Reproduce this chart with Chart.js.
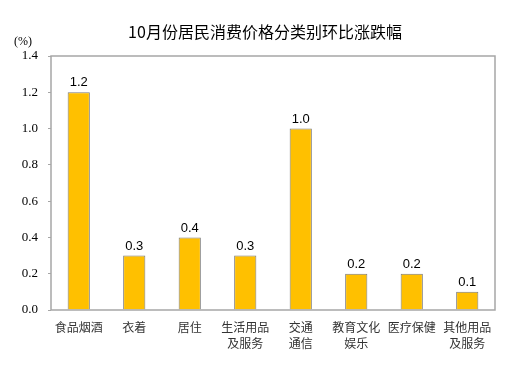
<!DOCTYPE html>
<html>
<head>
<meta charset="utf-8">
<script src="https://cdn.jsdelivr.net/npm/chart.js@4"></script>
<style>
  html, body { margin: 0; padding: 0; background: #fff; }
  #wrap { width: 529px; height: 378px; position: relative; }
</style>
</head>
<body>
<div id="wrap"><canvas id="cpiChart"></canvas></div>
<script>
// 10月份居民消费价格分类别环比涨跌幅
const categories = [
  '食品烟酒', '衣着', '居住', ['生活用品', '及服务'],
  ['交通', '通信'], ['教育文化', '娱乐'], '医疗保健', ['其他用品', '及服务'],
];
const momChange = [1.2, 0.3, 0.4, 0.3, 1.0, 0.2, 0.2, 0.1];
const chartTitle = '10月份居民消费价格分类别环比涨跌幅';
const unitLabel = '(%)';

const CJK = "'Noto Sans CJK SC', 'Liberation Sans', sans-serif";
const SERIF = "'Liberation Serif', 'Times New Roman', serif";

// draws title, unit, frame and value labels
const decor = {
  id: 'decor',
  afterDatasetsDraw(chart) {
    const { ctx, chartArea: a } = chart;
    ctx.save();
    ctx.strokeStyle = '#a6a6a6';
    ctx.lineWidth = 1.5;
    ctx.strokeRect(a.left, a.top, a.right - a.left, a.bottom - a.top);

    ctx.fillStyle = '#000';
    ctx.font = `16px ${CJK}`;
    ctx.textAlign = 'center';
    ctx.textBaseline = 'middle';
    ctx.fillText(chartTitle, 265, 32);

    ctx.font = `12px ${SERIF}`;
    ctx.fillText(unitLabel, 23, 42);

    ctx.font = `13px 'Liberation Sans', Arial, sans-serif`;
    ctx.textBaseline = 'bottom';
    const meta = chart.getDatasetMeta(0);
    meta.data.forEach((bar, i) => {
      ctx.fillText(momChange[i].toFixed(1), bar.x, bar.y - 3);
    });
    ctx.restore();
  },
};

function draw() {
  new Chart(document.getElementById('cpiChart'), {
    type: 'bar',
    data: {
      labels: categories,
      datasets: [{
        data: momChange,
        backgroundColor: '#FFC000',
        borderColor: '#7a7a7a',
        borderWidth: 1,
        barPercentage: 0.4,
        categoryPercentage: 1.0,
      }],
    },
    options: {
      responsive: true,
      maintainAspectRatio: false,
      animation: false,
      layout: { padding: { top: 56, right: 34, bottom: 0, left: 0 } },
      plugins: {
        legend: { display: false },
        tooltip: { enabled: false },
      },
      scales: {
        x: {
          grid: { display: false },
          border: { display: false },
          ticks: {
            color: '#333',
            font: { family: CJK, size: 12, lineHeight: 1.35 },
            padding: 1,
            maxRotation: 0,
            autoSkip: false,
          },
          afterFit: s => { s.height = 68; },
        },
        y: {
          min: 0,
          max: 1.4,
          grid: { drawOnChartArea: false, tickLength: 3, color: '#a6a6a6' },
          border: { display: false },
          ticks: {
            stepSize: 0.2,
            color: '#000',
            padding: 10,
            font: { family: SERIF, size: 13 },
            callback: v => v.toFixed(1),
          },
          afterFit: s => { s.width = 51; },
        },
      },
    },
    plugins: [decor],
  });
}

Promise.all([
  document.fonts.load(`13px 'Liberation Serif'`),
  document.fonts.load(`12px 'Noto Sans CJK SC'`),
  document.fonts.load(`13px 'Liberation Sans'`),
]).then(draw, draw);
</script>
</body>
</html>
